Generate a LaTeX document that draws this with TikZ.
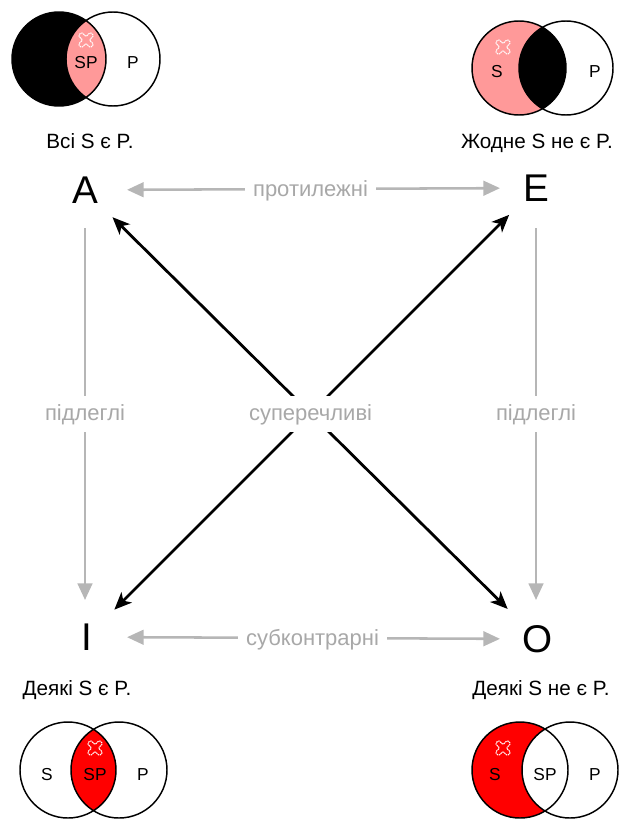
\documentclass[tikz,border=0pt]{standalone}
\usepackage{fontspec}
\setmainfont{Liberation Sans}
\usetikzlibrary{arrows.meta}
\definecolor{pinkfill}{RGB}{255,153,153}
\definecolor{redfill}{RGB}{255,0,0}
\definecolor{arrowgray}{RGB}{182,182,182}
\definecolor{labelgray}{RGB}{168,168,168}
\newcommand\mycross[1]{\draw[crossline,shift={(#1)},rotate=45] (2.4,2.4)--(2.4,8.5)--(-2.4,8.5)--(-2.4,2.4)--(-8.5,2.4)--(-8.5,-2.4)--(-2.4,-2.4)--(-2.4,-8.5)--(2.4,-8.5)--(2.4,-2.4)--(8.5,-2.4)--(8.5,2.4)--cycle;}
\begin{document}
\begin{tikzpicture}[x=0.75pt,y=-0.75pt,
  bigletter/.style={inner sep=0pt,font=\fontsize{29}{32}\selectfont},
  caption/.style={inner sep=0pt,anchor=base,font=\fontsize{15.5}{18}\selectfont},
  vennlabel/.style={inner sep=0pt,font=\fontsize{13}{15}\selectfont},
  vennline/.style={draw=black,line width=1.1pt},
  crossline/.style={draw=white,line width=0.8pt,dash pattern=on 1.2pt off 0.5pt,rounded corners=0.8pt},
  graylabel/.style={text=labelgray,fill=white,inner xsep=6pt,inner ysep=5.75pt,text height=13pt,text depth=2.5pt,font=\fontsize{16.5}{18}\selectfont},
  grayarrow/.style={draw=arrowgray,line width=1.9pt,>={Triangle[length=12.5pt,width=11pt]}},
  blackarrow/.style={draw=black,line width=2.1pt,>={Stealth[length=13pt,width=11pt,inset=3.5pt]}}
]
\useasboundingbox (0,0) rectangle (624,820);
\clip (0,0) rectangle (624,820);

% ---------- Venn: top-left (All S are P) ----------
\coordinate (tlS) at (59,59);
\coordinate (tlP) at (113,59);
\fill[black] (tlS) circle[radius=47];
\begin{scope}
  \clip (tlS) circle[radius=47];
  \fill[pinkfill] (tlP) circle[radius=47];
\end{scope}
\draw[vennline] (tlS) circle[radius=47] (tlP) circle[radius=47];
\node[vennlabel] (tlSPlab) at (86,63) {SP};
\node[vennlabel] (tlPlab) at (133,63) {P};
\mycross{86,40}
\node[caption] (capA) at (90,149) {Всі S є P.};

% ---------- Venn: top-right (No S is P) ----------
\coordinate (trS) at (519,68);
\coordinate (trP) at (566,68);
\fill[pinkfill] (trS) circle[radius=47];
\begin{scope}
  \clip (trS) circle[radius=47];
  \fill[black] (trP) circle[radius=47];
\end{scope}
\draw[vennline] (trS) circle[radius=47] (trP) circle[radius=47];
\node[vennlabel] (trSlab) at (497,72) {S};
\node[vennlabel] (trPlab) at (595,72) {P};
\mycross{503,47}
\node[caption] (capE) at (537,148) {Жодне S не є P.};

% ---------- Venn: bottom-left (Some S are P) ----------
\coordinate (blS) at (68,770);
\coordinate (blP) at (119,770);
\begin{scope}
  \clip (blS) circle[radius=48];
  \fill[redfill] (blP) circle[radius=48];
\end{scope}
\draw[vennline] (blS) circle[radius=48] (blP) circle[radius=48];
\node[vennlabel] (blSlab) at (47,775) {S};
\node[vennlabel] (blSPlab) at (95,775) {SP};
\node[vennlabel] (blPlab) at (143,775) {P};
\mycross{95,748}
\node[caption] (capI) at (77,695) {Деякі S є P.};

% ---------- Venn: bottom-right (Some S are not P) ----------
\coordinate (brS) at (520,770);
\coordinate (brP) at (570,770);
\fill[redfill] (brS) circle[radius=48];
\begin{scope}
  \clip (brS) circle[radius=48];
  \fill[white] (brP) circle[radius=48];
\end{scope}
\draw[vennline] (brS) circle[radius=48] (brP) circle[radius=48];
\node[vennlabel] (brSlab) at (495,775) {S};
\node[vennlabel] (brSPlab) at (545,775) {SP};
\node[vennlabel] (brPlab) at (595,775) {P};
\mycross{503,748}
\node[caption] (capO) at (541,695) {Деякі S не є P.};

% ---------- Square of opposition ----------
\node[bigletter] (A) at (85,190) {A};
\node[bigletter] (E) at (536,188) {E};
\node[bigletter] (I) at (87,637) {I};
\node[bigletter] (O) at (538,639) {O};

\draw[grayarrow,<->,shorten <=31.5pt,shorten >=27pt] (A.center) -- (E.center)
  node[graylabel,midway] (lblAE) {протилежні};
\draw[grayarrow,<->,shorten <=30pt,shorten >=28.5pt] (I.center) -- (O.center)
  node[graylabel,midway] (lblIO) {субконтрарні};
\draw[grayarrow,->,shorten <=28.5pt,shorten >=27.75pt] (A.center) -- (A.center |- I.center)
  node[graylabel,midway] (lblAI) {підлеглі};
\draw[grayarrow,->,shorten <=30pt,shorten >=29.25pt] (E.center) -- (E.center |- O.center)
  node[graylabel,midway] (lblEO) {підлеглі};

\draw[blackarrow,<->,shorten <=29pt,shorten >=32pt] (A.center) -- (O.center);
\draw[blackarrow,<->,shorten <=29pt,shorten >=28.5pt] (I.center) -- (E.center);
\node[graylabel] (lblX) at (intersection of A.center--O.center and I.center--E.center) {суперечливі};
\end{tikzpicture}
\end{document}
